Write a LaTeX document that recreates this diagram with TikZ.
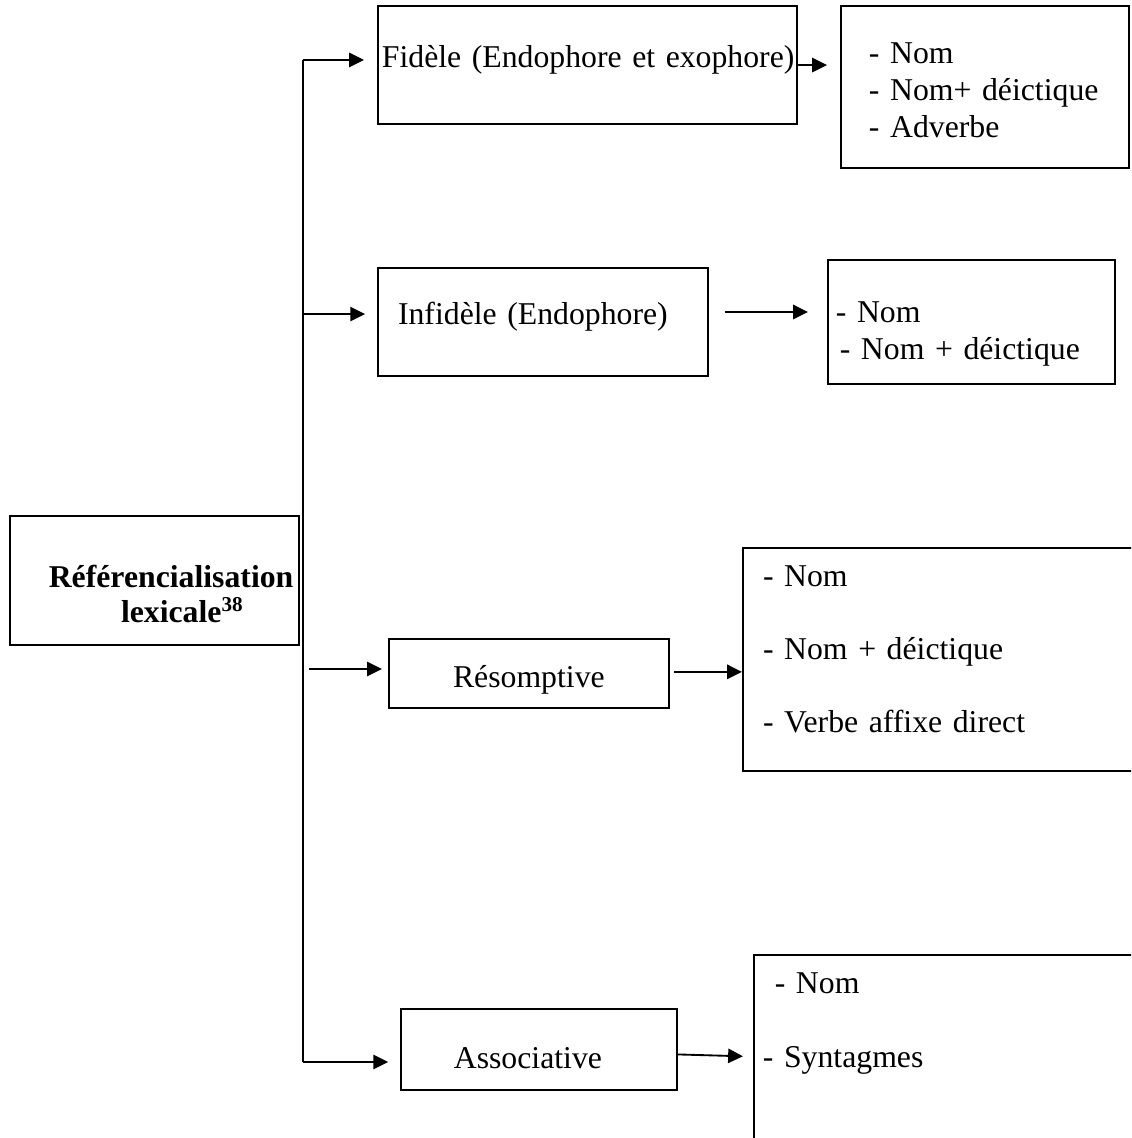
\documentclass[tikz,border=0pt]{standalone}
\usepackage{fontspec}
\setmainfont{Liberation Serif}
\usepackage{tikz}
\usetikzlibrary{arrows.meta}

\tikzset{
 bx/.style={draw, line width=0.7pt, anchor=north west, inner ysep=0pt, align=left, font=\fontsize{12}{14}\selectfont},
 arr/.style={->, line width=0.7pt, >={Triangle[length=5.6pt,width=5.4pt]}}
}

\begin{document}
\begin{tikzpicture}[x=0.378pt, y=-0.378pt]
 \useasboundingbox (0,0) rectangle (1131,1138);
 \clip (0,0) rectangle (1131,1138);

 \node (main) at (9,515)[bx, inner xsep=0pt, text width=109.2pt, text height=27.2pt, text depth=21.5pt]
   {\bfseries\hspace*{14.7pt}Référencialisation\\[-0.8pt]\hspace*{42pt}lexicale\textsuperscript{38}};

 \node (fid) at (377,5)[bx, inner xsep=1.5pt, text width=155.4pt, text height=23.1pt, text depth=21.6pt]{\mbox{Fidèle (Endophore et exophore)}};
 \node (l1) at (840,5)[bx, inner xsep=10.6pt, text width=87.7pt, text height=21.9pt, text depth=39.3pt]{- Nom\\- Nom+ déictique\\- Adverbe};

 \node (inf) at (377,267)[bx, inner xsep=7.6pt, text width=109.6pt, text height=21.2pt, text depth=19.7pt]{Infidèle (Endophore)};
 \node (l2) at (827,259)[bx, inner xsep=3pt, text width=102.4pt, text height=23.8pt, text depth=23.1pt]{- Nom\\\hspace*{1.5pt}- Nom + déictique};

 \node (res) at (388,638)[bx, align=center, inner xsep=0pt, text width=105.8pt, text height=18.5pt, text depth=7.6pt]{Résomptive};
 \node (l3) at (742,547)[bx, inner xsep=7.6pt, text width=155pt, text height=14.7pt, text depth=69.6pt]{- Nom\\[13.6pt]- Nom + déictique\\[13.6pt]- Verbe affixe direct};

 \node (ass) at (400,1008)[bx, inner xsep=20pt, text width=64.3pt, text height=22.7pt, text depth=7.9pt]{Associative};
 \node (l4) at (753,954)[bx, inner xsep=3.4pt, text width=163.3pt, text height=14.4pt, text depth=78.6pt]{\hspace*{4.5pt}- Nom\\[14.3pt]- Syntagmes};

 % trunk
 \coordinate (top) at (303,60);
 \coordinate (bot) at (303,1062);
 \draw[line width=0.7pt] (top) -- (bot);

 \draw[arr, shorten >=4.9pt] (top) -- (top -| fid.west);
 \draw[arr, shorten >=4.9pt] (fid.east) -- (fid.east -| l1.west);

 \draw[arr, shorten >=4.5pt] ([yshift=3pt]top |- inf.west) -- ([yshift=3pt]inf.west);
 \draw[arr, shorten <=6pt, shorten >=7.2pt] ([yshift=3.8pt]inf.east) -- ([yshift=3.8pt]inf.east -| l2.west);

 \draw[arr, shorten <=2.3pt, shorten >=2.3pt] ([yshift=1.7pt]top |- res.west) -- ([yshift=1.7pt]res.west);
 \draw[arr, shorten <=1.5pt] ([yshift=0.6pt]res.east) -- ([yshift=0.6pt]res.east -| l3.west);

 \draw[arr, shorten >=4.5pt] (bot) -- (bot -| ass.west);
 \draw[arr] ([yshift=-1.9pt]ass.east) -- ([yshift=-2.6pt,xshift=-3.8pt]ass.east -| l4.west);

\end{tikzpicture}
\end{document}
